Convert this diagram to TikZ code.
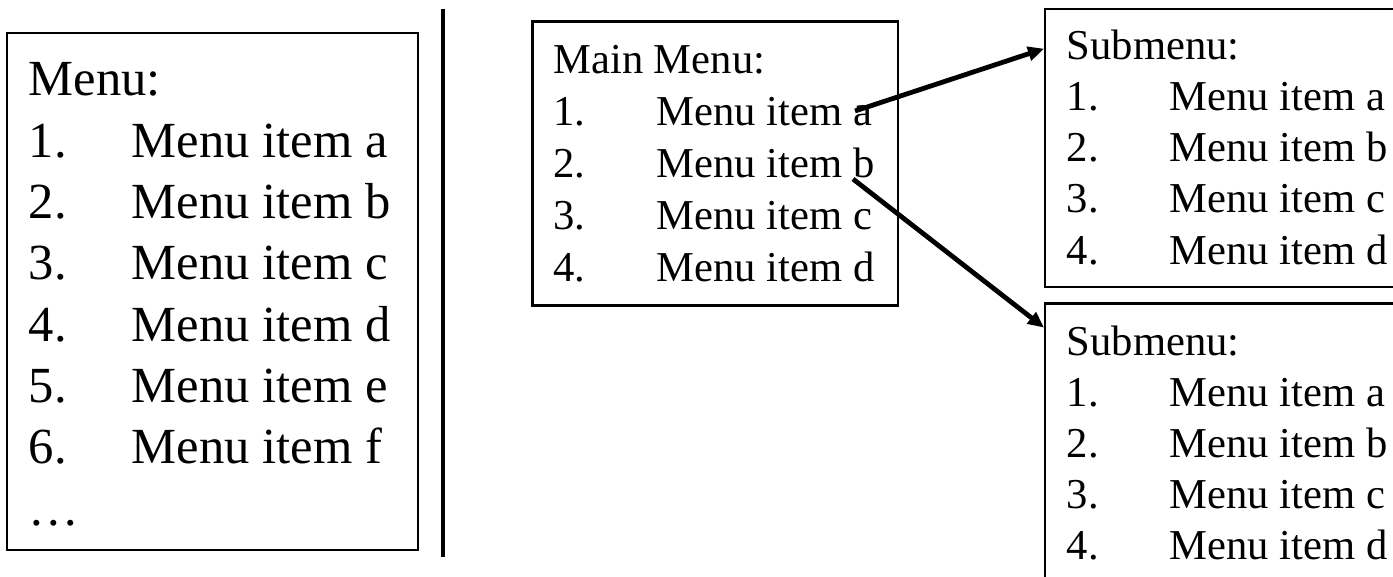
\documentclass[tikz,border=0pt]{standalone}
\usepackage{fontspec}
\setmainfont{Liberation Serif}
\usetikzlibrary{arrows.meta,calc}
\begin{document}
\begin{tikzpicture}[x=0.5pt,y=-0.5pt,
  box/.style={draw, line width=1.3pt, inner sep=0pt, outer sep=0pt, anchor=north west},
  bigtext/.style={inner sep=0pt, anchor=base west, font=\fontsize{25.3}{30}\selectfont},
  smalltext/.style={inner sep=0pt, anchor=base west, font=\fontsize{21.3}{25}\selectfont},
  link/.style={line width=2.4pt, -{Triangle[length=8pt,width=7pt]}},
  divider/.style={line width=2.3pt}]
\clip (0,0) rectangle (1393,577);
% boxes
\node[box, minimum width=205.5pt, minimum height=258.5pt] (menu) at (7,33) {};
\node[box, minimum width=182.75pt, minimum height=142pt] (main) at (532.5,21.7) {};
\node[box, minimum width=177.5pt, minimum height=139pt] (sub1) at (1045,9) {};
\node[box, minimum width=177.5pt, minimum height=143.2pt] (sub2) at (1045,303.6) {};
% divider
\coordinate (vt) at (443,9);
\coordinate (vb) at (443,557);
\draw[divider] (vt) -- (vb);
% left menu
\node[bigtext] (menuT) at (28.5,96) {Menu:};
\foreach \k/\l in {1/a,2/b,3/c,4/d,5/e,6/f} {
  \node[bigtext] (ln\k) at (28.5,{96+61.3*\k}) {\k.};
  \node[bigtext] (li\k) at (131.5,{96+61.3*\k}) {Menu item \l};
}
\node[bigtext] (ldots) at (28.5,{96+61.3*7}) {…};
% main menu
\node[smalltext] (mainT) at (553,73.6) {Main Menu:};
\foreach \k/\l in {1/a,2/b,3/c,4/d} {
  \node[smalltext] (mn\k) at (553,{73.6+51.9*\k}) {\k.};
  \node[smalltext] (mi\k) at (656.5,{73.6+51.9*\k}) {Menu item \l};
}
% submenu 1
\node[smalltext] (s1T) at (1066.5,59.7) {Submenu:};
\foreach \k/\l in {1/a,2/b,3/c,4/d} {
  \node[smalltext] (sa\k) at (1066.5,{59.7+51.1*\k}) {\k.};
  \node[smalltext] (sai\k) at (1169.5,{59.7+51.1*\k}) {Menu item \l};
}
% submenu 2
\node[smalltext] (s2T) at (1066.5,355.4) {Submenu:};
\foreach \k/\l in {1/a,2/b,3/c,4/d} {
  \node[smalltext] (sb\k) at (1066.5,{355.4+51*\k}) {\k.};
  \node[smalltext] (sbi\k) at (1169.5,{355.4+51*\k}) {Menu item \l};
}
% arrows
\coordinate (fromA) at (855,111);
\coordinate (fromB) at (853,179);
\draw[link] (fromA) -- ($(sub1.north west)+(-1,39.7)$);
\draw[link] (fromB) -- ($(sub2.north west)+(-1,24)$);
\end{tikzpicture}
\end{document}
